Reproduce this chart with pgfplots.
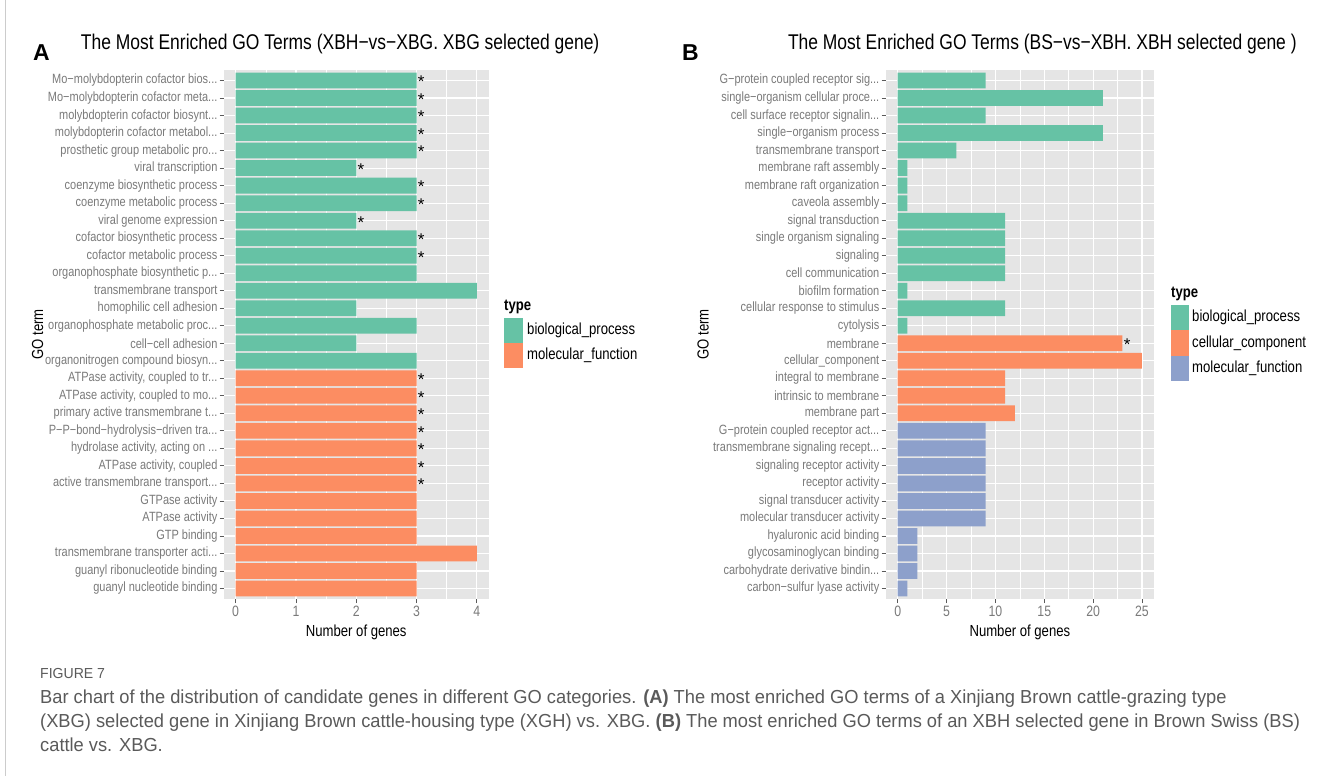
\documentclass[border=0pt]{standalone}
\usepackage{fontspec}
\setmainfont{Liberation Sans}[FakeStretch=0.82]
\newfontfamily\plainsans{Liberation Sans}
\newfontfamily\capfont{Liberation Sans}[FakeStretch=0.97]
\usepackage{pgfplots}
\pgfplotsset{compat=1.18}
\newcommand{\etc}{.{}.{}.}
\definecolor{cBP}{HTML}{66C2A5}
\definecolor{cCC}{HTML}{FC8D62}
\definecolor{cMF}{HTML}{8DA0CB}
\definecolor{panelbg}{HTML}{E5E5E5}
\definecolor{tickgray}{HTML}{7A7A7A}
\definecolor{tickmark}{HTML}{5A5A5A}
\definecolor{capgray}{HTML}{5A5A5A}
\pgfplotsset{ggstyle/.style={
  scale only axis,
  y dir=reverse,
  ymin=-0.6, ymax=29.6,
  ytick={0,...,29},
  axis line style={draw=none},
  axis background/.style={fill=panelbg},
  xmajorgrids, ymajorgrids, xminorgrids,
  minor x tick num=1,
  major grid style={white, line width=1.1pt},
  minor grid style={white, line width=0.55pt},
  tick align=outside,
  major tick length=4pt,
  minor tick length=0pt,
  tick style={tickmark, line width=0.8pt},
  xtick pos=left, ytick pos=left,
  /pgf/number format/assume math mode=true,
  xticklabel style={font=\fontsize{15}{15}\selectfont, text=tickgray, inner sep=1pt, yshift=-2pt},
  yticklabel style={font=\fontsize{13.4}{14}\selectfont, text=tickgray, inner sep=1pt, xshift=-1pt},
  xlabel={Number of genes},
  xlabel style={at={(axis description cs:0.5,-0.0624)}, anchor=center, font=\fontsize{16}{17}\selectfont},
  ylabel={GO term},
  ylabel style={anchor=center, font=\fontsize{16}{17}\selectfont},
  title style={anchor=west, font=\fontsize{21.3}{22}\selectfont},
}}
\pgfplotsset{ggbar/.style={xbar, bar width=0.9, bar shift=0pt, draw=none, fill=#1}}
\pgfplotsset{ggstar/.style={draw=none, mark=none, nodes near coords={*},
  nodes near coords style={anchor=west, text=black, inner sep=1.2pt, yshift=-1.5pt, font=\plainsans\fontsize{17}{17}\selectfont}}}
\begin{document}
\begin{tikzpicture}
\path[use as bounding box] (0pt,0pt) rectangle (1328pt,-776pt);
\fill[white] (0pt,0pt) rectangle (1328pt,-776pt);
\draw[black!20, line width=1pt] (5pt,0pt) -- (5pt,-776pt);
% ---------------- Panel A ----------------
\begin{axis}[ggstyle,
  at={(223.6pt,-599pt)}, anchor=south west,
  width=265.3pt, height=529pt,
  xmin=-0.2, xmax=4.2,
  xtick={0,1,2,3,4},
  yticklabels={
    {Mo−molybdopterin cofactor bios\etc},
    {Mo−molybdopterin cofactor meta\etc},
    {molybdopterin cofactor biosynt\etc},
    {molybdopterin cofactor metabol\etc},
    {prosthetic group metabolic pro\etc},
    {viral transcription},
    {coenzyme biosynthetic process},
    {coenzyme metabolic process},
    {viral genome expression},
    {cofactor biosynthetic process},
    {cofactor metabolic process},
    {organophosphate biosynthetic p\etc},
    {transmembrane transport},
    {homophilic cell adhesion},
    {organophosphate metabolic proc\etc},
    {cell−cell adhesion},
    {organonitrogen compound biosyn\etc},
    {ATPase activity, coupled to tr\etc},
    {ATPase activity, coupled to mo\etc},
    {primary active transmembrane t\etc},
    {P−P−bond−hydrolysis−driven tra\etc},
    {hydrolase activity, acting on \etc},
    {ATPase activity, coupled},
    {active transmembrane transport\etc},
    {GTPase activity},
    {ATPase activity},
    {GTP binding},
    {transmembrane transporter acti\etc},
    {guanyl ribonucleotide binding},
    {guanyl nucleotide binding}},
  ylabel style={at={(axis description cs:-0.701,0.5)}},
  title={The Most Enriched GO Terms (XBH−vs−XBG. XBG selected gene)},
  title style={at={(axis description cs:-0.551,1.0378)}},
]
% biological_process
\addplot[ggbar=cBP] coordinates {
  (3,0) (3,1) (3,2) (3,3) (3,4) (2,5) (3,6) (3,7) (2,8) (3,9)
  (3,10) (3,11) (4,12) (2,13) (3,14) (2,15) (3,16)};
% molecular_function
\addplot[ggbar=cCC] coordinates {
  (3,17) (3,18) (3,19) (3,20) (3,21) (3,22) (3,23) (3,24) (3,25) (3,26)
  (4,27) (3,28) (3,29)};
% significance stars
\addplot[ggstar] coordinates {
  (3,0) (3,1) (3,2) (3,3) (3,4) (2,5) (3,6) (3,7) (2,8) (3,9) (3,10)
  (3,17) (3,18) (3,19) (3,20) (3,21) (3,22) (3,23)};
\end{axis}
% ---------------- Panel B ----------------
\begin{axis}[ggstyle,
  at={(885.5pt,-599pt)}, anchor=south west,
  width=268.7pt, height=529pt,
  xmin=-1.25, xmax=26.25,
  xtick={0,5,10,15,20,25},
  yticklabels={
    {G−protein coupled receptor sig\etc},
    {single−organism cellular proce\etc},
    {cell surface receptor signalin\etc},
    {single−organism process},
    {transmembrane transport},
    {membrane raft assembly},
    {membrane raft organization},
    {caveola assembly},
    {signal transduction},
    {single organism signaling},
    {signaling},
    {cell communication},
    {biofilm formation},
    {cellular response to stimulus},
    {cytolysis},
    {membrane},
    {cellular\_component},
    {integral to membrane},
    {intrinsic to membrane},
    {membrane part},
    {G−protein coupled receptor act\etc},
    {transmembrane signaling recept\etc},
    {signaling receptor activity},
    {receptor activity},
    {signal transducer activity},
    {molecular transducer activity},
    {hyaluronic acid binding},
    {glycosaminoglycan binding},
    {carbohydrate derivative bindin\etc},
    {carbon−sulfur lyase activity}},
  ylabel style={at={(axis description cs:-0.679,0.5)}},
  title={The Most Enriched GO Terms (BS−vs−XBH. XBH selected gene )},
  title style={at={(axis description cs:-0.376,1.0378)}},
]
% biological_process
\addplot[ggbar=cBP] coordinates {
  (9,0) (21,1) (9,2) (21,3) (6,4) (1,5) (1,6) (1,7) (11,8) (11,9)
  (11,10) (11,11) (1,12) (11,13) (1,14)};
% cellular_component
\addplot[ggbar=cCC] coordinates {
  (23,15) (25,16) (11,17) (11,18) (12,19)};
% molecular_function
\addplot[ggbar=cMF] coordinates {
  (9,20) (9,21) (9,22) (9,23) (9,24) (9,25) (2,26) (2,27) (2,28) (1,29)};
% significance stars
\addplot[ggstar] coordinates {(23,15)};
\end{axis}
% ---------------- panel letters ----------------
\node[anchor=west, inner sep=0pt, font=\plainsans\bfseries\fontsize{23}{24}\selectfont] at (33pt,-53pt) {A};
\node[anchor=west, inner sep=0pt, font=\plainsans\bfseries\fontsize{23}{24}\selectfont] at (682pt,-53pt) {B};
% ---------------- legends ----------------
\begin{scope}[font=\fontsize{16}{17}\selectfont]
  \node[anchor=west, inner sep=0pt, font=\bfseries\fontsize{16}{17}\selectfont] at (504pt,-307pt) {type};
  \fill[cBP] (504pt,-318pt) rectangle (523pt,-343pt);
  \fill[cCC] (504pt,-343pt) rectangle (523pt,-368pt);
  \node[anchor=west, inner sep=0pt] at (527pt,-330.5pt) {biological\_process};
  \node[anchor=west, inner sep=0pt] at (527pt,-355.5pt) {molecular\_function};
  \node[anchor=west, inner sep=0pt, font=\bfseries\fontsize{16}{17}\selectfont] at (1171pt,-294pt) {type};
  \fill[cBP] (1171pt,-305pt) rectangle (1189pt,-330pt);
  \fill[cCC] (1171pt,-330pt) rectangle (1189pt,-355.5pt);
  \fill[cMF] (1171pt,-355.5pt) rectangle (1189pt,-381pt);
  \node[anchor=west, inner sep=0pt] at (1192pt,-317.5pt) {biological\_process};
  \node[anchor=west, inner sep=0pt] at (1192pt,-343pt) {cellular\_component};
  \node[anchor=west, inner sep=0pt] at (1192pt,-368.5pt) {molecular\_function};
\end{scope}
% ---------------- caption ----------------
\begin{scope}[every node/.style={anchor=base west, inner sep=0pt, text=capgray}]
  \node[font=\capfont\fontsize{14.5}{15}\selectfont] at (40pt,-678pt) {FIGURE 7};
  \node[font=\capfont\fontsize{18.85}{19}\selectfont] at (40pt,-703pt) {Bar chart of the distribution of candidate genes in different GO categories. \textbf{(A)} The most enriched GO terms of a Xinjiang Brown cattle-grazing type};
  \node[font=\capfont\fontsize{18.85}{19}\selectfont] at (40pt,-727pt) {(XBG) selected gene in Xinjiang Brown cattle-housing type (XGH) vs. XBG. \textbf{(B)} The most enriched GO terms of an XBH selected gene in Brown Swiss (BS)};
  \node[font=\capfont\fontsize{18.85}{19}\selectfont] at (40pt,-751pt) {cattle vs. XBG.};
\end{scope}
\end{tikzpicture}
\end{document}
